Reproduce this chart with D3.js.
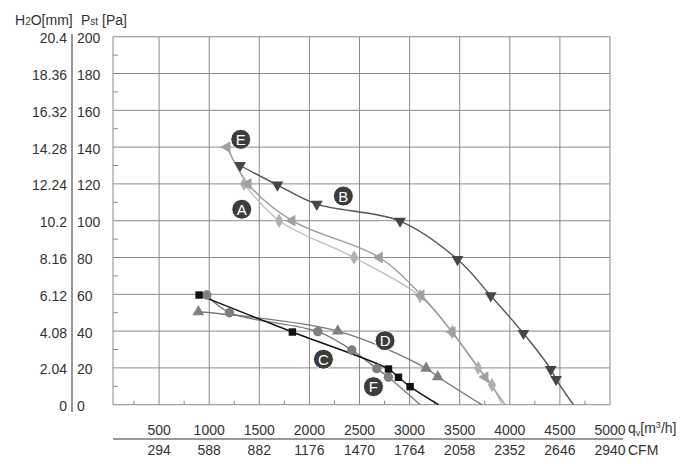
<!DOCTYPE html>
<html><head><meta charset="utf-8">
<script src="https://cdn.jsdelivr.net/npm/d3@7"></script>
<style>
body{margin:0;background:#fff;}
text{font-family:"Liberation Sans",Arial,sans-serif;fill:#333;}
</style></head>
<body><svg id="c" width="700" height="471"></svg>
<script>
// ---- data ----
const qTicks = [500,1000,1500,2000,2500,3000,3500,4000,4500,5000];
const cfmLabels = ["294","588","882","1176","1470","1764","2058","2352","2646","2940"];
const paTicks = [0,20,40,60,80,100,120,140,160,180,200];
const mmLabels = ["0","2.04","4.08","6.12","8.16","10.2","12.24","14.28","16.32","18.36","20.4"];

const seriesNames = ["A","B","C","D","E","F"];
const qA = [1348,1698,2446,3105,3424,3684,3823,3923];
const pA = [120,100,80,59,39.5,20,10.7,0];
const qB = [1308,1681,2074,2905,3478,3810,4136,4409,4462,4635];
const pB = [130,119.4,109,99.8,79,59.2,38.8,19.2,13.8,0];
const qC = [899,1830,2789,2889,3005,3288];
const pC = [59.6,39.5,19.4,14.9,9.8,0];
const qD = [892,2283,3165,3281,3720];
const pD = [50.5,40,19.8,15.2,0];
const qE = [1179,1388,1827,2699,3115,3424,3753,3953];
const pE = [140,120,100,80,59.6,39.5,15,0];
const qF = [976,1202,2084,2423,2673,2789,3105];
const pF = [59.6,50,39.7,29.7,19.6,14.9,0];

// label bubble positions (q, p)
const labelQ = [1325,2339,2140,2755,1315,2639];
const labelP = [106.2,113.4,24.7,34.8,144.2,9.8];

// ---- styles ----
const style = {
  A:{line:"#bdbdbd", mark:"#b0b0b0", sym:d3.symbolDiamond, rot:0, size:60},
  B:{line:"#555", mark:"#454545", sym:d3.symbolTriangle, rot:180, size:60},
  C:{line:"#111", mark:"#111", sym:d3.symbolSquare, rot:0, size:55},
  D:{line:"#7a7a7a", mark:"#808080", sym:d3.symbolTriangle, rot:0, size:60},
  E:{line:"#9c9c9c", mark:"#a0a0a0", sym:d3.symbolTriangle, rot:-90, size:60},
  F:{line:"#7a7a7a", mark:"#7f7f7f", sym:d3.symbolCircle, rot:0, size:70}
};
const data = {A:[qA,pA],B:[qB,pB],C:[qC,pC],D:[qD,pD],E:[qE,pE],F:[qF,pF]};

const svg = d3.select("#c");
const x = d3.scaleLinear().domain([40,5000]).range([113,610]);
const y = d3.scaleLinear().domain([0,200]).range([404.7,36.7]);

// grid
const g = svg.append("g");
g.selectAll("line.h").data(paTicks).join("line")
  .attr("x1",113).attr("x2",610).attr("y1",d=>y(d)).attr("y2",d=>y(d))
  .attr("stroke","#8a8a8a").attr("stroke-width",1);
g.selectAll("line.v").data(qTicks).join("line")
  .attr("y1",y(0)).attr("y2",y(200)).attr("x1",d=>x(d)).attr("x2",d=>x(d))
  .attr("stroke","#8a8a8a").attr("stroke-width",1);
g.append("line").attr("x1",113).attr("x2",113).attr("y1",y(200)).attr("y2",y(0))
  .attr("stroke","#8a8a8a").attr("stroke-width",1);
// minor ticks
const minorP = d3.range(10,200,20);
g.selectAll("line.mp").data(minorP).join("line")
  .attr("x1",113).attr("x2",118).attr("y1",d=>y(d)).attr("y2",d=>y(d))
  .attr("stroke","#8a8a8a");
const minorQ = d3.range(250,5000,500);
g.selectAll("line.mq").data(minorQ).join("line")
  .attr("y1",y(0)).attr("y2",y(0)-4).attr("x1",d=>x(d)).attr("x2",d=>x(d))
  .attr("stroke","#8a8a8a");

// left axis
svg.append("line").attr("x1",72).attr("x2",72).attr("y1",34).attr("y2",412)
  .attr("stroke","#555").attr("stroke-width",1.2);
svg.selectAll("text.pa").data(paTicks).join("text")
  .attr("x",77).attr("y",d=>y(d)+6.5).attr("font-size",14).text(d=>d);
svg.selectAll("text.mm").data(mmLabels).join("text")
  .attr("x",67).attr("text-anchor","end").attr("y",(d,i)=>y(paTicks[i])+6.5)
  .attr("font-size",14).text(d=>d);
// header
const h1 = svg.append("text").attr("x",15).attr("y",25).attr("font-size",14);
h1.append("tspan").text("H");
h1.append("tspan").attr("font-size",10).text("2");
h1.append("tspan").text("O[mm]");
const h2 = svg.append("text").attr("x",81).attr("y",25).attr("font-size",14);
h2.append("tspan").text("P");
h2.append("tspan").attr("font-size",10).text("st");
h2.append("tspan").text(" [Pa]");

// bottom axis
svg.selectAll("text.q").data(qTicks).join("text")
  .attr("x",d=>x(d)).attr("y",435).attr("text-anchor","middle").attr("font-size",14).text(d=>d);
svg.append("line").attr("x1",113).attr("x2",623).attr("y1",439).attr("y2",439)
  .attr("stroke","#999").attr("stroke-width",2);
svg.selectAll("text.cfm").data(cfmLabels).join("text")
  .attr("x",(d,i)=>x(qTicks[i])).attr("y",455).attr("text-anchor","middle").attr("font-size",14).text(d=>d);
const qv = svg.append("text").attr("x",628).attr("y",433).attr("font-size",14);
qv.append("tspan").text("q");
qv.append("tspan").attr("font-size",9).attr("dy",3).text("v");
qv.append("tspan").attr("dy",-3).text("[m");
qv.append("tspan").attr("font-size",9).attr("dy",-5).text("3");
qv.append("tspan").attr("dy",5).text("/h]");
svg.append("text").attr("x",628).attr("y",455).attr("font-size",14).text("CFM");

// curves
const line = d3.line().x(d=>x(d[0])).y(d=>y(d[1])).curve(d3.curveCatmullRom.alpha(0.5));
const order = ["A","E","B","D","F","C"];
order.forEach(k=>{
  const [qs,ps] = data[k];
  const pts = qs.map((q,i)=>[q,ps[i]]);
  const st = style[k];
  svg.append("path").datum(pts).attr("d",line).attr("fill","none")
    .attr("stroke",st.line).attr("stroke-width",1.4);
});
order.forEach(k=>{
  const [qs,ps] = data[k];
  const pts = qs.map((q,i)=>[q,ps[i]]).filter(d=>d[1]>0);
  const st = style[k];
  const sym = d3.symbol().type(st.sym).size(st.size);
  svg.selectAll(null).data(pts).join("path")
    .attr("d",sym)
    .attr("transform",d=>`translate(${x(d[0])},${y(d[1])}) rotate(${st.rot})`)
    .attr("fill",st.mark);
});

// label bubbles
seriesNames.forEach((n,i)=>{
  const cx = x(labelQ[i]), cy = y(labelP[i]);
  svg.append("circle").attr("cx",cx).attr("cy",cy).attr("r",10)
    .attr("fill","#3c3c3c").attr("stroke","#fff").attr("stroke-width",1);
  svg.append("text").attr("x",cx).attr("y",cy+5.5).attr("text-anchor","middle")
    .attr("font-size",15).style("fill","#fff").text(n);
});
</script></body></html>
